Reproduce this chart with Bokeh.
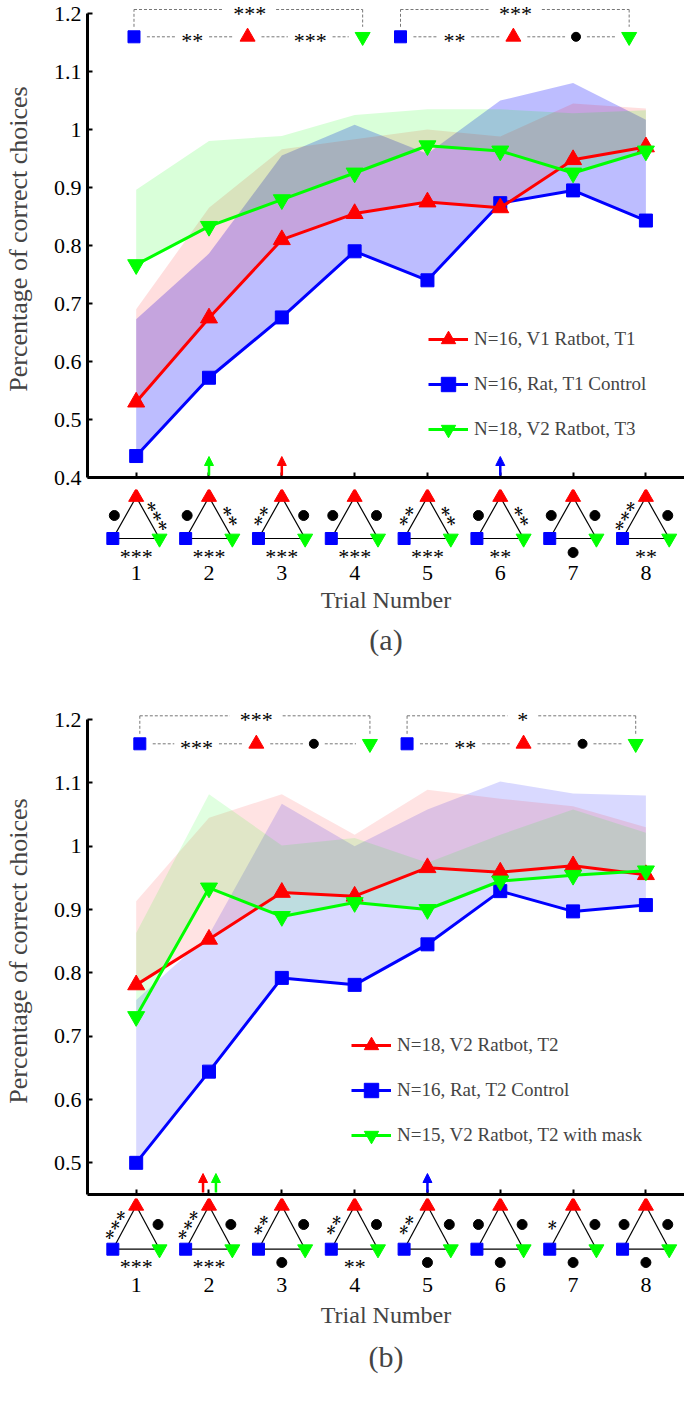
import math
from bokeh.plotting import figure
from bokeh.models import (FixedTicker, CustomJSTickFormatter, Range1d,
                          Legend, LegendItem, Title, Arrow, NormalHead)
from bokeh.layouts import column
from bokeh.core.properties import value
from bokeh.embed import file_html
from bokeh.resources import INLINE

# ---------------- data ----------------
trials = [1, 2, 3, 4, 5, 6, 7, 8]

a_yticks = [0.4, 0.5, 0.6, 0.7, 0.8, 0.9, 1.0, 1.1, 1.2]
b_yticks = [0.5, 0.6, 0.7, 0.8, 0.9, 1.0, 1.1, 1.2]

# panel (a)
a_labels = ["N=16, V1 Ratbot, T1", "N=16, Rat, T1 Control", "N=18, V2 Ratbot, T3"]
a_red_mean = [0.530, 0.675, 0.810, 0.855, 0.875, 0.865, 0.948, 0.970]
a_red_upper = [0.690, 0.865, 0.966, 0.983, 1.000, 0.988, 1.045, 1.036]
a_blue_mean = [0.437, 0.572, 0.676, 0.790, 0.740, 0.873, 0.895, 0.843]
a_blue_upper = [0.673, 0.786, 0.955, 1.008, 0.958, 1.050, 1.080, 1.017]
a_green_mean = [0.767, 0.833, 0.879, 0.925, 0.972, 0.963, 0.925, 0.963]
a_green_upper = [0.896, 0.980, 0.989, 1.025, 1.035, 1.035, 1.028, 1.033]

a_sig_blue_red = ["●", "●", "**", "●", "**", "●", "●", "***"]
a_sig_red_green = ["***", "**", "●", "●", "**", "**", "●", "●"]
a_sig_blue_green = ["***", "***", "***", "***", "***", "**", "●", "**"]
a_top_left = ["**", "***", "***"]
a_top_right = ["**", "●", "***"]
a_arrow_trials = [2, 3, 6]
a_arrow_colors = ["#00ff00", "#ff0000", "#0000ff"]

# panel (b)
b_labels = ["N=18, V2 Ratbot, T2", "N=16, Rat, T2 Control", "N=15, V2 Ratbot, T2 with mask"]
b_red_mean = [0.781, 0.853, 0.927, 0.921, 0.966, 0.959, 0.969, 0.955]
b_red_upper = [0.913, 1.045, 1.082, 1.018, 1.089, 1.075, 1.063, 1.030]
b_blue_mean = [0.500, 0.644, 0.792, 0.781, 0.845, 0.929, 0.897, 0.907]
b_blue_upper = [0.757, 0.860, 1.067, 1.000, 1.058, 1.102, 1.083, 1.080]
b_green_mean = [0.731, 0.934, 0.889, 0.911, 0.900, 0.945, 0.954, 0.961]
b_green_upper = [0.863, 1.082, 1.001, 1.013, 0.974, 1.018, 1.058, 1.021]

b_sig_blue_red = ["***", "***", "**", "**", "**", "●", "*", "●"]
b_sig_red_green = ["●", "●", "●", "●", "●", "●", "●", "●"]
b_sig_blue_green = ["***", "***", "●", "**", "●", "●", "●", "●"]
b_top_left = ["***", "●", "***"]
b_top_right = ["**", "●", "*"]
b_arrow_trials = [2, 2, 5]
b_arrow_colors = ["#ff0000", "#00ff00", "#0000ff"]

# ---------------- style / layout ----------------
FONT = "Liberation Serif"
RED, BLUE, GREEN = "#ff0000", "#0000ff", "#00ff00"
W = 684
LEFT = 83
X0, X1 = 0.3315, 8.53
SX = (W - LEFT) / (X1 - X0)
STAR_SIZE = "22px"


def star_hw(lbl):
    return 5.0 if lbl == "●" else 5.5 * len(lbl)


def place_sig(p, xs, ys, labels, angle, nudge, sy, dot_size=10, baseline="middle"):
    dx = [x for x, l in zip(xs, labels) if l == "●"]
    dy = [y for y, l in zip(ys, labels) if l == "●"]
    if dx:
        p.scatter(dx, dy, marker="circle", size=dot_size, color="black")
    tx = [x + nudge[0] / SX for x, l in zip(xs, labels) if l != "●"]
    ty = [y - nudge[1] / sy for y, l in zip(ys, labels) if l != "●"]
    tl = [l for l in labels if l != "●"]
    if tl:
        p.text(tx, ty, text=tl, angle=angle, text_align="center", text_baseline=baseline,
               text_font=value(FONT), text_font_size=STAR_SIZE, text_color="black")


def draw_top(p, xs, labels, row_y, br_y, sy):
    xb, xm1, xr, xm2, xg, xbr = xs
    l1, l2, lbr = labels
    items = [(xb, 7), (xm1, star_hw(l1)), (xr, 8), (xm2, star_hw(l2)), (xg, 8)]
    gap = 6
    x0s, x1s, y0s, y1s = [], [], [], []
    for (xa, ha), (xc, hc) in zip(items[:-1], items[1:]):
        x0s.append(xa + (ha + gap) / SX)
        x1s.append(xc - (hc + gap) / SX)
        y0s.append(row_y)
        y1s.append(row_y)
    mtop = row_y + 10 / sy
    hb = star_hw(lbr) + 10
    x0s += [xb, xb, xbr + hb / SX, xg]
    x1s += [xb, xbr - hb / SX, xg, xg]
    y0s += [mtop, br_y, br_y, br_y]
    y1s += [br_y, br_y, br_y, mtop]
    p.segment(x0s, y0s, x1s, y1s, line_color="#777777", line_width=1, line_dash="3 2")
    p.scatter([xb], [row_y], marker="square", size=12, color=BLUE)
    p.scatter([xr], [row_y], marker="triangle", size=15, color=RED)
    p.scatter([xg], [row_y], marker="inverted_triangle", size=15, color=GREEN)
    place_sig(p, [xm1, xm2], [row_y, row_y], [l1, l2], 0, (0, 4), sy, dot_size=9)
    place_sig(p, [xbr], [br_y], [lbr], 0, (0, -9), sy, dot_size=9, baseline="top")


def make_upper(cfg):
    ymin = cfg["ymin"]
    fh, tp = cfg["frame_h"], cfg["top_px"]
    sy = (fh - tp) / (1.2 - ymin)
    y_end = 1.2 + tp / sy
    p = figure(width=W, height=cfg["up_h"], x_range=Range1d(X0, X1), y_range=Range1d(ymin, y_end),
               output_backend="svg", toolbar_location=None,
               min_border_left=LEFT, min_border_right=0,
               min_border_top=cfg["up_h"] - fh - cfg["up_bb"],
               min_border_bottom=cfg["up_bb"], outline_line_color=None)
    p.grid.visible = False

    ya = p.yaxis[0]
    ya.ticker = FixedTicker(ticks=cfg["yticks"])
    ya.formatter = CustomJSTickFormatter(code="return (Math.round(tick*10)/10).toString();")
    ya.bounds = (ymin, 1.2)
    ya.axis_line_width = 3
    ya.major_tick_line_width = 2
    ya.major_tick_in = 5
    ya.major_tick_out = 0
    ya.minor_tick_line_color = None
    ya.major_label_standoff = 6
    ya.major_label_text_font = FONT
    ya.major_label_text_font_size = "22px"
    ya.major_label_text_color = "black"
    ya.axis_label = "Percentage of correct choices"
    ya.axis_label_text_font = FONT
    ya.axis_label_text_font_size = "26px"
    ya.axis_label_text_font_style = "normal"
    ya.axis_label_standoff = 18

    xa = p.xaxis[0]
    xa.ticker = FixedTicker(ticks=trials)
    xa.formatter = CustomJSTickFormatter(code="return '';")
    xa.axis_line_width = 3
    xa.major_tick_line_width = 2
    xa.major_tick_in = 5
    xa.major_tick_out = 0
    xa.minor_tick_line_color = None
    xa.major_label_standoff = 0
    xa.major_label_text_font_size = "0px"

    # bands
    for mean, up, col, al in [(cfg["blue"], cfg["blue_up"], BLUE, cfg["alpha"][0]),
                              (cfg["red"], cfg["red_up"], RED, cfg["alpha"][1]),
                              (cfg["green"], cfg["green_up"], GREEN, cfg["alpha"][2])]:
        p.varea(x=trials, y1=mean, y2=up, fill_color=col, fill_alpha=al)

    bl = p.line(trials, cfg["blue"], line_color=BLUE, line_width=3)
    bs = p.scatter(trials, cfg["blue"], marker="square", size=13, color=BLUE)
    rl = p.line(trials, cfg["red"], line_color=RED, line_width=3)
    rs = p.scatter(trials, cfg["red"], marker="triangle", size=17, color=RED)
    gl = p.line(trials, cfg["green"], line_color=GREEN, line_width=3)
    gs = p.scatter(trials, cfg["green"], marker="inverted_triangle", size=17, color=GREEN)

    leg = Legend(items=[LegendItem(label=cfg["labels"][0], renderers=[rl, rs]),
                        LegendItem(label=cfg["labels"][1], renderers=[bl, bs]),
                        LegendItem(label=cfg["labels"][2], renderers=[gl, gs])],
                 location=cfg["legend_loc"], padding=0, margin=0, spacing=9,
                 glyph_width=40, glyph_height=36, label_height=20, label_standoff=6,
                 label_text_font=FONT, label_text_font_size="19px",
                 border_line_color=None, background_fill_alpha=0)
    p.add_layout(leg)

    for t, c, off in zip(cfg["arrow_t"], cfg["arrow_c"], cfg["arrow_off"]):
        x = t + off / SX
        p.add_layout(Arrow(end=NormalHead(size=9, fill_color=c, line_color=c, line_width=1),
                           x_start=x, y_start=ymin + 2 / sy, x_end=x, y_end=ymin + 21 / sy,
                           line_color=c, line_width=2.5))

    row_y = 1.2 - cfg["row_px"] / sy
    br_y = 1.2 + cfg["br_px"] / sy
    draw_top(p, cfg["top_left_x"], cfg["top_left"], row_y, br_y, sy)
    draw_top(p, cfg["top_right_x"], cfg["top_right"], row_y, br_y, sy)
    return p


def make_lower(cfg):
    fh = cfg["lo_frame"]
    q = figure(width=W, height=cfg["lo_h"], x_range=Range1d(X0, X1), y_range=Range1d(-fh, 0),
               output_backend="svg", toolbar_location=None, y_axis_location=None,
               min_border_left=LEFT, min_border_right=0, min_border_top=0,
               min_border_bottom=cfg["lo_h"] - fh, outline_line_color=None)
    q.grid.visible = False
    xa = q.xaxis[0]
    xa.ticker = FixedTicker(ticks=trials)
    xa.formatter = CustomJSTickFormatter(code="return tick.toFixed(0);")
    xa.axis_line_color = None
    xa.major_tick_line_color = None
    xa.major_tick_in = 0
    xa.major_tick_out = 0
    xa.minor_tick_line_color = None
    xa.major_label_standoff = cfg["tick_so"]
    xa.major_label_text_font = FONT
    xa.major_label_text_font_size = "22px"
    xa.major_label_text_color = "black"
    xa.axis_label = "Trial Number"
    xa.axis_label_text_font = FONT
    xa.axis_label_text_font_size = "24px"
    xa.axis_label_text_font_style = "normal"
    xa.axis_label_standoff = cfg["label_so"]
    q.add_layout(Title(text=cfg["title"], align="center", text_font=FONT, text_font_size="30px",
                       text_font_style="normal", standoff=cfg["title_so"]), "below")

    o = cfg["tri"]
    apex_y, base_y = -o["apex"], -o["base"]
    half = 23.5 / SX
    x0s, y0s, x1s, y1s = [], [], [], []
    for t in trials:
        x0s += [t, t, t - half]
        y0s += [apex_y, apex_y, base_y]
        x1s += [t - half, t + half, t + half]
        y1s += [base_y, base_y, base_y]
    q.segment(x0s, y0s, x1s, y1s, line_color="black", line_width=1.2)
    q.scatter(trials, [apex_y] * 8, marker="triangle", size=15, color=RED)
    q.scatter([t - half for t in trials], [base_y] * 8, marker="square", size=12, color=BLUE)
    q.scatter([t + half for t in trials], [base_y] * 8, marker="inverted_triangle", size=15, color=GREEN)

    side_y = [-o["side"]] * 8
    place_sig(q, [t - 22 / SX for t in trials], side_y, cfg["sig_br"], math.pi / 3, (3.5, 2), 1.0)
    place_sig(q, [t + 22 / SX for t in trials], side_y, cfg["sig_rg"], -math.pi / 3, (-3.5, 2), 1.0)
    place_sig(q, trials, [-o["bottom"]] * 8, cfg["sig_bg"], 0, (0, 4), 1.0)
    return q


cfg_a = dict(ymin=0.4, up_h=489, up_bb=12, frame_h=477, top_px=13, yticks=a_yticks, title="(a)",
             red=a_red_mean, red_up=a_red_upper, blue=a_blue_mean, blue_up=a_blue_upper,
             green=a_green_mean, green_up=a_green_upper, alpha=(0.26, 0.13, 0.15),
             labels=a_labels, legend_loc=(341, 30),
             arrow_t=a_arrow_trials, arrow_c=a_arrow_colors, arrow_off=[0, 0, 0],
             top_left=a_top_left, top_right=a_top_right,
             top_left_x=[0.97, 1.77, 2.53, 3.39, 4.11, 2.56],
             top_right_x=[4.63, 5.37, 6.18, 7.04, 7.77, 6.21],
             row_px=23.3, br_px=4.0,
             lo_h=178, lo_frame=73, tick_so=3, label_so=4, title_so=10,
             tri=dict(apex=7.5, base=49, side=26, bottom=63),
             sig_br=a_sig_blue_red, sig_rg=a_sig_red_green, sig_bg=a_sig_blue_green)

cfg_b = dict(ymin=0.45, up_h=531, up_bb=4, frame_h=487, top_px=12, yticks=b_yticks, title="(b)",
             red=b_red_mean, red_up=b_red_upper, blue=b_blue_mean, blue_up=b_blue_upper,
             green=b_green_mean, green_up=b_green_upper, alpha=(0.15, 0.11, 0.12),
             labels=b_labels, legend_loc=(264, 41),
             arrow_t=b_arrow_trials, arrow_c=b_arrow_colors, arrow_off=[-6, 7, 0],
             top_left=b_top_left, top_right=b_top_right,
             top_left_x=[1.05, 1.83, 2.65, 3.44, 4.21, 2.65],
             top_right_x=[4.72, 5.52, 6.32, 7.13, 7.86, 6.31],
             row_px=24.3, br_px=3.7,
             lo_h=189, lo_frame=76, tick_so=3, label_so=7, title_so=14,
             tri=dict(apex=7.3, base=50.7, side=26, bottom=64),
             sig_br=b_sig_blue_red, sig_rg=b_sig_red_green, sig_bg=b_sig_blue_green)

layout = column(make_upper(cfg_a), make_lower(cfg_a), make_upper(cfg_b), make_lower(cfg_b), spacing=0)

open("out.html", "w").write(file_html(layout, INLINE))
